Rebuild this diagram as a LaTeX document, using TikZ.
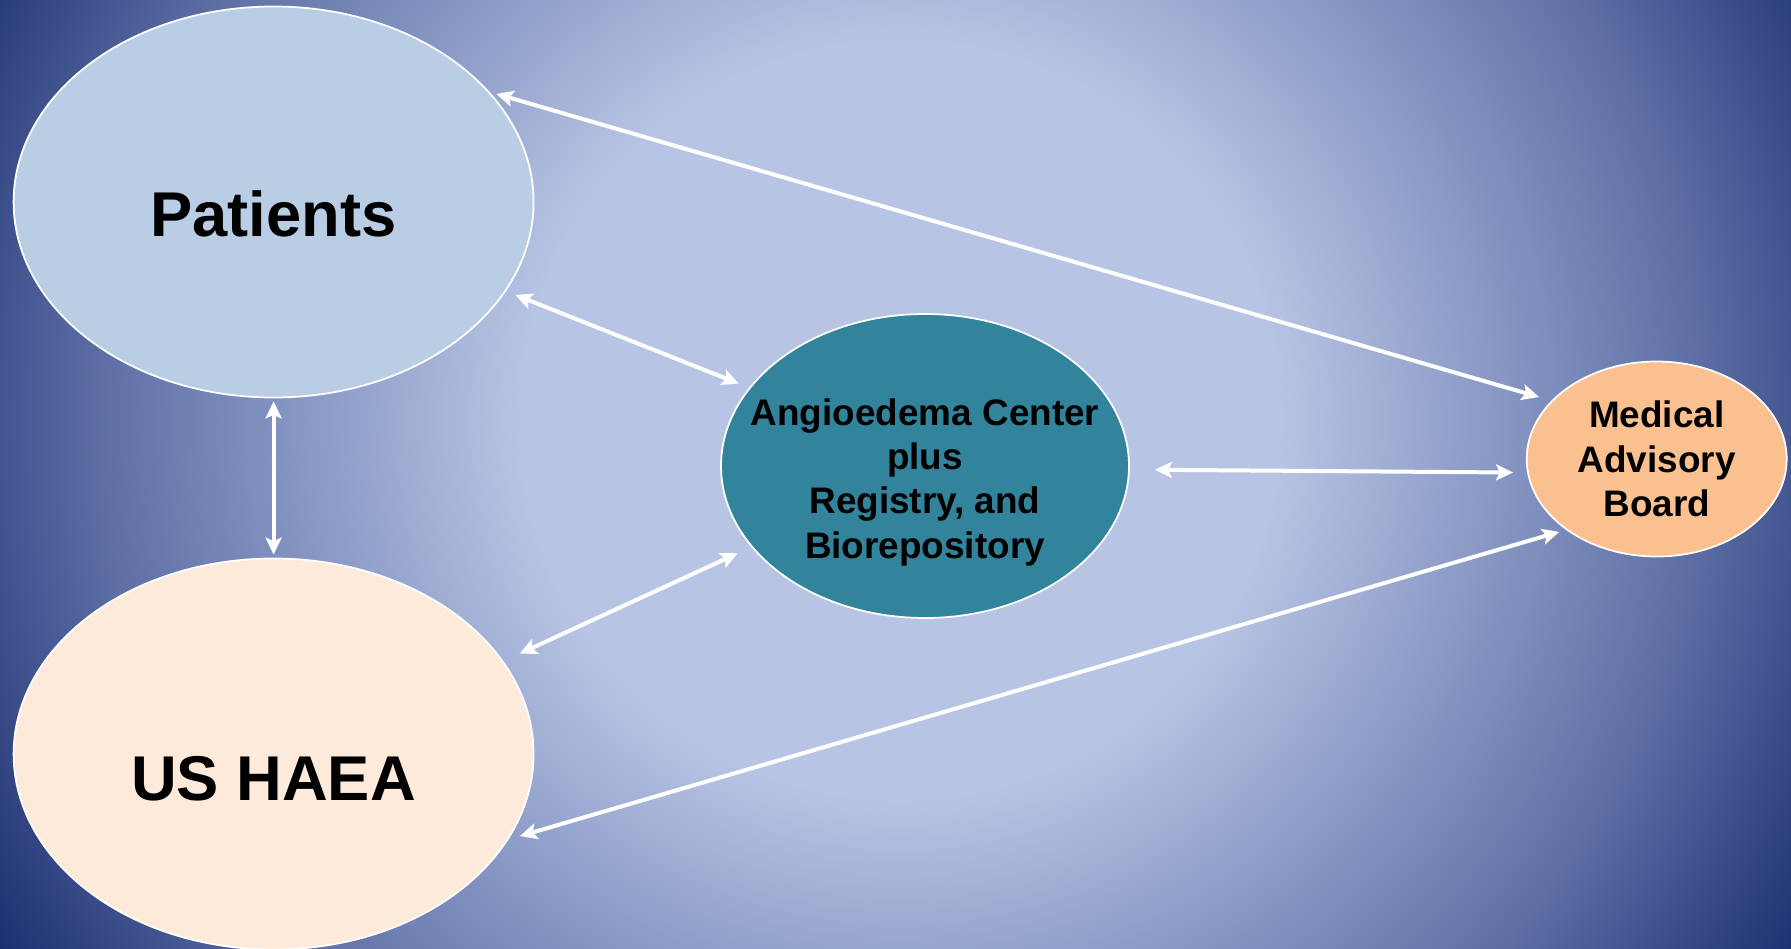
\documentclass[tikz,border=0pt]{standalone}
\usepackage{fontspec}
\setmainfont{Liberation Sans}
\usetikzlibrary{arrows.meta,shapes.geometric}

\definecolor{bglight}{HTML}{B7C4E4}
\definecolor{bgmid}{HTML}{8E9DC8}
\definecolor{bgdeep}{HTML}{5D6FA5}
\definecolor{bgdark}{HTML}{1A2E6E}
\definecolor{patfill}{HTML}{B9CDE5}
\definecolor{haeafill}{HTML}{FDEADA}
\definecolor{ctrfill}{HTML}{31849B}
\definecolor{mabfill}{HTML}{FAC090}

\pgfdeclareradialshading{bgglow}{\pgfpoint{0bp}{0bp}}{color(0bp)=(bglight); color(9bp)=(bglight); color(13.6bp)=(bgmid); color(19bp)=(bgdeep); color(25bp)=(bgdark); color(50bp)=(bgdark)}

\begin{document}
\begin{tikzpicture}[
    x=0.1mm, y=-0.1mm,
    bubble/.style={ellipse, draw=white, line width=0.5pt, inner sep=0pt},
    big/.style={bubble, minimum width=52mm, minimum height=39.1mm, text depth=0pt, font=\fontsize{18}{21.6}\selectfont\bfseries},
    small/.style={bubble, align=center, font=\fontsize{10.5}{12.6}\selectfont\bfseries},
    link/.style={{Stealth[length=1.7mm, width=1.6mm, inset=0.35mm]}-{Stealth[length=1.7mm, width=1.6mm, inset=0.35mm]}, draw=white, line width=0.4mm}
]
% Background
\useasboundingbox (0,0) rectangle (1791,949);
\fill[bgdark] (0,0) rectangle (1791,949);
\begin{scope}
    \clip (0,0) rectangle (1791,949);
    \shade[shading=bgglow] (900,420) circle (1050);
\end{scope}

% Main components
\node[big, fill=patfill, text height=6.9mm] (pat) at (273.6,202) {Patients};
\node[big, fill=haeafill, text height=9.3mm] (haea) at (273.6,754) {US HAEA};
\node[small, fill=ctrfill, minimum width=40.8mm, minimum height=30.4mm, inner xsep=-3.2mm, text height=19.2mm] (ctr) at (925,466) {Angioedema Center\\plus\\Registry, and\\Biorepository};
\node[small, fill=mabfill, minimum width=26mm, minimum height=19.5mm] (mab) at (1656.7,459) {Medical\\Advisory\\Board};

% Two-way arrows
\draw[link, shorten <=0.7mm, shorten >=1.3mm] (pat.27) -- (mab.151);
\draw[link, shorten <=1mm, shorten >=1.1mm] (pat.-21) -- (ctr.156);
\draw[link, shorten <=0.3mm, shorten >=0.3mm] (pat.south) -- (haea.north);
\draw[link, shorten <=1.8mm, shorten >=1.5mm] (haea.22) -- (ctr.-155);
\draw[link, shorten <=1.2mm, shorten >=0.7mm] (haea.-20) -- (mab.-142);
\draw[link, shorten <=2.5mm, shorten >=1.4mm] (ctr.-1.5) -- (mab.186.5);
\end{tikzpicture}
\end{document}
